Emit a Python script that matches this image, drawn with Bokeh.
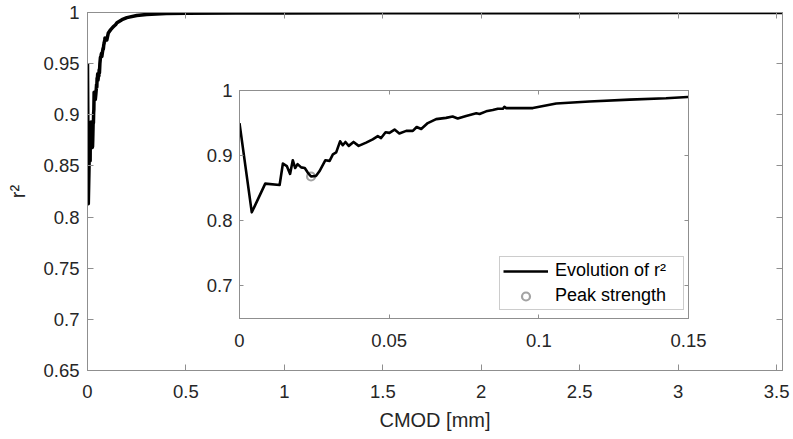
from bokeh.plotting import figure
from bokeh.models import FixedTicker, Legend, LegendItem, LinearAxis
from bokeh.embed import file_html
from bokeh.resources import INLINE

# ---------------- data ----------------
cmod = [0.0, 0.0041, 0.0086, 0.0134, 0.0145, 0.0158, 0.0169, 0.0178, 0.0186, 0.0194,
        0.0206, 0.0218, 0.0228, 0.0239, 0.0256, 0.0267, 0.0287, 0.0301, 0.0312, 0.0323,
        0.0336, 0.0345, 0.0354, 0.0365, 0.0381, 0.0398, 0.0423, 0.0445, 0.0462, 0.0473,
        0.0488, 0.0501, 0.0518, 0.0534, 0.0557, 0.0579, 0.0592, 0.0607, 0.0629, 0.0657,
        0.0690, 0.0712, 0.0729, 0.0757, 0.0791, 0.0802, 0.0824, 0.0846, 0.0863, 0.0880,
        0.0885, 0.0891, 0.0980, 0.1058, 0.1169, 0.1303, 0.1425, 0.1497, 0.175, 0.2,
        0.25, 0.3, 0.4, 0.5, 0.75, 1.0, 1.5, 2.0, 2.5, 3.0, 3.53]
r2 = [0.950, 0.813, 0.857, 0.855, 0.888, 0.884, 0.872, 0.893, 0.881, 0.887,
      0.882, 0.881, 0.874, 0.868, 0.869, 0.876, 0.893, 0.892, 0.902, 0.905,
      0.922, 0.916, 0.921, 0.915, 0.921, 0.915, 0.920, 0.925, 0.930, 0.927,
      0.936, 0.935, 0.940, 0.934, 0.938, 0.938, 0.944, 0.941, 0.950, 0.956,
      0.958, 0.960, 0.957, 0.961, 0.965, 0.964, 0.968, 0.970, 0.972, 0.972,
      0.975, 0.973, 0.973, 0.980, 0.983, 0.986, 0.988, 0.990, 0.993, 0.995,
      0.997, 0.998, 0.999, 0.9993, 0.9995, 0.9996, 0.9997, 0.9998, 0.9998, 0.9999,
      0.9999]
peak_cmod = [0.0239]
peak_r2 = [0.868]

main_xticks = [0, 0.5, 1, 1.5, 2, 2.5, 3, 3.5]
main_xlabels = ["0", "0.5", "1", "1.5", "2", "2.5", "3", "3.5"]
main_yticks = [0.65, 0.7, 0.75, 0.8, 0.85, 0.9, 0.95, 1]
main_ylabels = ["0.65", "0.7", "0.75", "0.8", "0.85", "0.9", "0.95", "1"]
inset_xticks = [0, 0.05, 0.1, 0.15]
inset_xlabels = ["0", "0.05", "0.1", "0.15"]
inset_yticks = [0.7, 0.8, 0.9, 1]
inset_ylabels = ["0.7", "0.8", "0.9", "1"]

x_label = "CMOD [mm]"
y_label = "r\u00b2"
legend_labels = ["Evolution of r\u00b2", "Peak strength"]

# ---------------- style ----------------
FONT = "Liberation Sans"
TXT = "#262626"
GREY = "#8f8f8f"
TICK_FS = "18.5px"
LABEL_FS = "20px"


def style_axis(ax, ticks, labels, tick_len, standoff):
    ax.ticker = FixedTicker(ticks=ticks)
    ax.major_label_overrides = dict(zip(ticks, labels))
    ax.major_tick_in = tick_len
    ax.major_tick_out = 0
    ax.minor_tick_line_color = None
    ax.axis_line_color = GREY
    ax.major_tick_line_color = GREY
    ax.major_label_text_font = FONT
    ax.major_label_text_font_size = TICK_FS
    ax.major_label_text_color = TXT
    ax.major_label_standoff = standoff


def mirror_axis(fig, ticks, tick_len, side):
    ax = LinearAxis(ticker=FixedTicker(ticks=ticks))
    ax.major_label_overrides = {t: "" for t in ticks}
    ax.major_label_text_font_size = "0px"
    ax.major_label_standoff = 0
    ax.major_tick_in = tick_len
    ax.major_tick_out = 0
    ax.minor_tick_line_color = None
    ax.axis_line_color = GREY
    ax.major_tick_line_color = GREY
    fig.add_layout(ax, side)


# ---------------- main figure ----------------
p = figure(width=786, height=432,
           x_range=(0, max(cmod)), y_range=(0.65, 1),
           output_backend="svg", toolbar_location=None,
           min_border_left=83, min_border_right=8,
           min_border_top=11, min_border_bottom=58)
p.grid.visible = False
p.outline_line_color = GREY
p.background_fill_color = "white"
p.border_fill_color = "white"

xa = p.xaxis[0]
ya = p.yaxis[0]
style_axis(xa, main_xticks, main_xlabels, 6, 14)
style_axis(ya, main_yticks, main_ylabels, 6, 8)
xa.axis_label = x_label
ya.axis_label = y_label
for ax in (xa, ya):
    ax.axis_label_text_font = FONT
    ax.axis_label_text_font_size = LABEL_FS
    ax.axis_label_text_font_style = "normal"
    ax.axis_label_text_color = TXT
xa.axis_label_standoff = 8
ya.axis_label_standoff = 11
mirror_axis(p, main_xticks, 6, "above")
mirror_axis(p, main_yticks, 6, "right")

p.line(cmod, r2, line_width=3.5, line_color="black", line_join="round")

# ---------------- inset figure ----------------
ins = figure(width=509, height=278,
             x_range=(0, 0.15), y_range=(0.65, 1),
             output_backend="svg", toolbar_location=None,
             min_border_left=40, min_border_right=20,
             min_border_top=12, min_border_bottom=38)
ins.grid.visible = False
ins.outline_line_color = GREY
ins.background_fill_color = "white"
ins.border_fill_alpha = 0

ixa = ins.xaxis[0]
iya = ins.yaxis[0]
style_axis(ixa, inset_xticks, inset_xlabels, 4, 15)
style_axis(iya, inset_yticks, inset_ylabels, 4, 7)
mirror_axis(ins, inset_xticks, 4, "above")
mirror_axis(ins, inset_yticks, 4, "right")

pk = ins.scatter(peak_cmod, peak_r2, marker="circle", size=8,
                 fill_color=None, line_color="#a3a3a3", line_width=2.2)
ln = ins.line(cmod, r2, line_width=2.6, line_color="black", line_join="round")

legend = Legend(items=[LegendItem(label=legend_labels[0], renderers=[ln]),
                       LegendItem(label=legend_labels[1], renderers=[pk])],
                location=(260, 8))
legend.margin = 0
legend.padding = 3
legend.spacing = 4
legend.glyph_width = 45
legend.glyph_height = 20
legend.label_height = 20
legend.label_width = 125
legend.label_standoff = 7
legend.label_text_font = FONT
legend.label_text_font_size = "18px"
legend.label_text_color = "black"
legend.border_line_color = "#9a9a9a"
legend.border_line_width = 1
legend.background_fill_color = "white"
legend.background_fill_alpha = 1
ins.add_layout(legend)

p.styles = {"position": "absolute", "left": "4px", "top": "1px"}
ins.styles = {"position": "absolute", "left": "199px", "top": "78px"}

open("out.html", "w").write(file_html([p, ins], INLINE))
